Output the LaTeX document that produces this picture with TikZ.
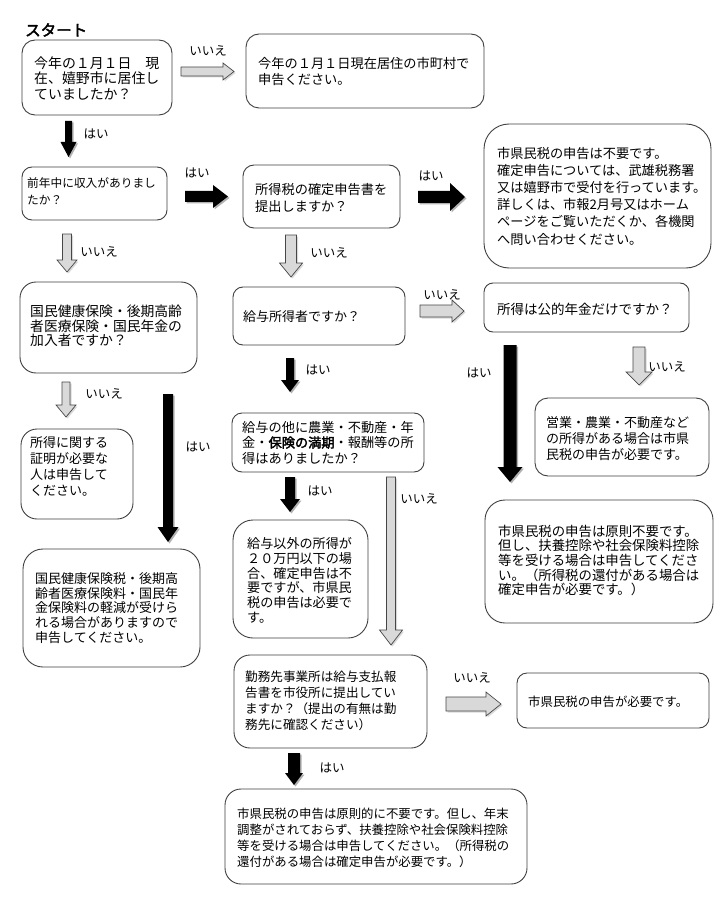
\documentclass[tikz,border=0pt]{standalone}
\usepackage{fontspec}
\newfontfamily\jp[AutoFakeBold=2.5]{Noto Sans CJK JP}
\tikzset{
  box/.style={draw=black!75, line width=0.9pt, fill=white, inner sep=0pt},
  txt/.style={inner sep=0pt, anchor=west, align=left},
  lab/.style={font=\jp\fontsize{12.5}{14}\selectfont, inner sep=0pt},
  blk/.style={fill=black},
  blkshadow/.style={fill=black!30},
  gry/.style={fill=gray!30, draw=gray!55!black, line width=0.7pt},
  gryshadow/.style={fill=black!15}
}
% box: name, x1, y1, x2, y2, radius
\newcommand\bx[6]{\node[box, minimum width={#4pt-#2pt}, minimum height={#5pt-#3pt}, rounded corners=#6pt] (#1) at ({(#2+#4)/2},{(#3+#5)/2}) {};}
% text: name, x left, y centre, size, skip, text
\newcommand\tx[6]{\node[txt, font=\jp\fontsize{#4}{#5}\selectfont] (#1) at (#2,#3) {#6};}
% vertical arrow: style, xc, ytop, ybot, shaft half, head half, head length
\newcommand\varr[7]{\path[#1] ({#2-#5},#3) -- ({#2+#5},#3) -- ({#2+#5},{#4-#7}) -- ({#2+#6},{#4-#7}) -- (#2,#4) -- ({#2-#6},{#4-#7}) -- ({#2-#5},{#4-#7}) -- cycle;}
% horizontal arrow: style, yc, xleft, xright, shaft half, head half, head length
\newcommand\harr[7]{\path[#1] (#3,{#2-#5}) -- ({#4-#7},{#2-#5}) -- ({#4-#7},{#2-#6}) -- (#4,#2) -- ({#4-#7},{#2+#6}) -- ({#4-#7},{#2+#5}) -- (#3,{#2+#5}) -- cycle;}
\newcommand\bvarr[6]{\begin{scope}[shift={(1.5,1.5)}]\varr{blkshadow}{#1}{#2}{#3}{#4}{#5}{#6}\end{scope}\varr{blk}{#1}{#2}{#3}{#4}{#5}{#6}}
\newcommand\bharr[6]{\begin{scope}[shift={(1.5,1.5)}]\harr{blkshadow}{#1}{#2}{#3}{#4}{#5}{#6}\end{scope}\harr{blk}{#1}{#2}{#3}{#4}{#5}{#6}}
\newcommand\gvarr[6]{\begin{scope}[shift={(1.5,1.5)}]\varr{gryshadow}{#1}{#2}{#3}{#4}{#5}{#6}\end{scope}\varr{gry}{#1}{#2}{#3}{#4}{#5}{#6}}
\newcommand\gharr[6]{\begin{scope}[shift={(1.5,1.5)}]\harr{gryshadow}{#1}{#2}{#3}{#4}{#5}{#6}\end{scope}\harr{gry}{#1}{#2}{#3}{#4}{#5}{#6}}
\begin{document}
\begin{tikzpicture}[x=1pt,y=-1pt]
\useasboundingbox (0,0) rectangle (720,901);
\fill[white] (0,0) rectangle (720,901);

\node[txt, font=\jp\bfseries\fontsize{15.5}{17}\selectfont] (start) at (25,30) {スタート};

% boxes
\bx{A}{22}{40}{172}{115}{13}
\tx{At}{34}{78}{13.9}{15.5}{今年の１月１日　現\\在、嬉野市に居住し\\ていましたか？}
\bx{B}{246}{34}{484}{108}{13}
\tx{Bt}{258}{72}{13.2}{16}{今年の１月１日現在居住の市町村で\\申告ください。}
\bx{C}{22}{167}{167}{220}{10}
\tx{Ct}{27}{191.5}{11.7}{17}{前年中に収入がありまし\\たか？}
\bx{D}{243}{165}{400}{228}{11}
\tx{Dt}{255}{198}{13.2}{17}{所得税の確定申告書を\\提出しますか？}
\bx{E}{484}{124}{711}{268}{25}
\tx{Et}{497}{196}{13.2}{17.2}{市県民税の申告は不要です。\\確定申告については、武雄税務署\\又は嬉野市で受付を行っています。\\詳しくは、市報2月号又はホーム\\ページをご覧いただくか、各機関\\へ問い合わせください。}
\bx{F}{20}{282}{197}{373}{16}
\tx{Ft}{30}{326}{13.8}{14.3}{国民健康保険・後期高齢\\者医療保険・国民年金の\\加入者ですか？}
\bx{G}{233}{287}{405}{345}{10}
\tx{Gt}{243}{317}{13}{15}{給与所得者ですか？}
\bx{H}{484}{283}{689}{332}{9}
\tx{Ht}{497}{309}{13.5}{15}{所得は公的年金だけですか？}
\bx{I}{535}{398}{709}{476}{13}
\tx{It}{546}{439}{13}{16}{営業・農業・不動産など\\の所得がある場合は市県\\民税の申告が必要です。}
\bx{J}{485}{500}{713}{623}{20}
\tx{Jt}{498}{560.5}{13.4}{14.7}{市県民税の申告は原則不要です。\\但し、扶養控除や社会保険料控除\\等を受ける場合は申告してくださ\\い。（所得税の還付がある場合は\\確定申告が必要です。）}
\bx{K}{21}{429}{133}{519}{16}
\tx{Kt}{30}{466}{13}{16}{所得に関する\\証明が必要な\\人は申告して\\ください。}
\bx{L}{232}{413}{424}{472}{10}
\tx{Lt}{242}{442.5}{13.2}{15.5}{給与の他に農業・不動産・年\\金・\textbf{保険の満期}・報酬等の所\\得はありましたか？}
\bx{M}{23}{549}{200}{667}{20}
\tx{Mt}{35}{608}{13}{14.7}{国民健康保険税・後期高\\齢者医療保険料・国民年\\金保険料の軽減が受けら\\れる場合がありますので\\申告してください。}
\bx{N}{233}{520}{368}{638}{20}
\tx{Nt}{247}{580.5}{13.1}{14.7}{給与以外の所得が\\２０万円以下の場\\合、確定申告は不\\要ですが、市県民\\税の申告は必要で\\す。}
\bx{O}{234}{655}{427}{748}{16}
\tx{Ot}{245}{701}{12.6}{16}{勤務先事業所は給与支払報\\告書を市役所に提出してい\\ますか？（提出の有無は勤\\務先に確認ください）}
\bx{P}{517}{673}{709}{728}{10}
\tx{Pt}{528}{702}{12.4}{15}{市県民税の申告が必要です。}
\bx{Q}{225}{789}{527}{884}{16}
\tx{Qt}{237}{838}{12.4}{16}{市県民税の申告は原則的に不要です。但し、年末\\調整がされておらず、扶養控除や社会保険料控除\\等を受ける場合は申告してください。（所得税の\\還付がある場合は確定申告が必要です。）}

% arrows
\gharr{71.5}{181}{234}{4.5}{8.5}{11}
\bvarr{68.5}{121}{157}{3.5}{8}{15}
\bharr{196.5}{185}{228}{5.5}{11.5}{15}
\bharr{197}{418}{465}{6}{14}{15}
\gvarr{67}{234}{272}{4.5}{10}{12}
\gvarr{291}{235}{277}{5.5}{11.5}{14}
\gharr{311}{420}{464}{6}{11}{12}
\gvarr{639}{347}{385}{6}{13}{13}
\bvarr{510}{345}{482}{6.5}{12.5}{15}
\gvarr{66}{382}{417}{4}{10}{12}
\bvarr{168}{394}{542}{5}{10.5}{15}
\bvarr{290}{358}{392}{4}{9}{12}
\bvarr{290}{477}{512}{5}{10}{13}
\gvarr{391}{477}{645}{4.5}{11.5}{15}
\gharr{704}{446}{501}{7}{12}{15}
\bvarr{294}{753}{785}{6}{9}{12}

% labels
\node[lab] (l1) at (208,51) {いいえ};
\node[lab] (l2) at (96,134) {はい};
\node[lab] (l3) at (197,173) {はい};
\node[lab] (l4) at (431,176) {はい};
\node[lab] (l5) at (99,252) {いいえ};
\node[lab] (l6) at (329,253) {いいえ};
\node[lab] (l7) at (442,295) {いいえ};
\node[lab] (l8) at (667,367) {いいえ};
\node[lab] (l9) at (479,373) {はい};
\node[lab] (l10) at (104,394) {いいえ};
\node[lab] (l11) at (198,447) {はい};
\node[lab] (l12) at (318,370) {はい};
\node[lab] (l13) at (320,491) {はい};
\node[lab] (l14) at (419,499) {いいえ};
\node[lab] (l15) at (472,678) {いいえ};
\node[lab] (l16) at (332,768) {はい};
\end{tikzpicture}
\end{document}
